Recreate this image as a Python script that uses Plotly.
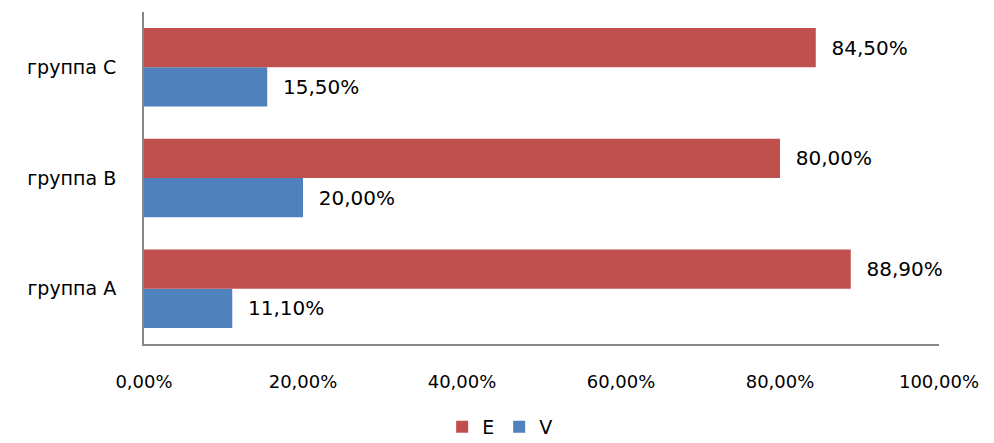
import plotly.graph_objects as go

categories = ["группа A", "группа B", "группа C"]
values_E = [88.9, 80.0, 84.5]
values_V = [11.1, 20.0, 15.5]
x_ticks = [0, 20, 40, 60, 80, 100]
x_tick_labels = ["0,00%", "20,00%", "40,00%", "60,00%", "80,00%", "100,00%"]

RED = "#C0504D"
BLUE = "#4F81BD"
FONT = "DejaVu Sans"

fig = go.Figure()
fig.add_trace(go.Bar(
    y=categories, x=values_V, name="V", orientation="h",
    marker=dict(color=BLUE, line=dict(width=0)),
    texttemplate="\u00a0\u00a0%{x:.2f}%", textposition="outside",
    textfont=dict(family=FONT, size=20, color="black"), cliponaxis=False,
))
fig.add_trace(go.Bar(
    y=categories, x=values_E, name="E", orientation="h",
    marker=dict(color=RED, line=dict(width=0)),
    texttemplate="\u00a0\u00a0%{x:.2f}%", textposition="outside",
    textfont=dict(family=FONT, size=20, color="black"), cliponaxis=False,
))

fig.update_layout(
    width=994, height=443,
    margin=dict(l=144, r=55, t=12, b=99, autoexpand=False),
    paper_bgcolor="white", plot_bgcolor="white",
    separators=", ",
    barmode="group", bargap=0.29, bargroupgap=0,
    font=dict(family=FONT, size=18, color="black"),
    showlegend=True,
    legend=dict(
        orientation="h", traceorder="reversed",
        x=0.448, xanchor="center",
        yref="paper", y=-0.25, yanchor="middle",
        font=dict(family=FONT, size=19, color="black"),
        itemwidth=30,
    ),
)
fig.update_xaxes(
    range=[0, 100], tickvals=x_ticks, ticktext=x_tick_labels,
    showgrid=False, zeroline=False, showline=True, linecolor="#868686", linewidth=2,
    ticks="", ticklabelstandoff=20, tickfont=dict(family=FONT, size=18, color="black"),
)
fig.update_yaxes(
    showgrid=False, zeroline=False, showline=True, linecolor="#868686", linewidth=2,
    ticks="", ticklabelstandoff=22, tickfont=dict(family=FONT, size=19, color="black"),
)

fig.write_html("out.html")
